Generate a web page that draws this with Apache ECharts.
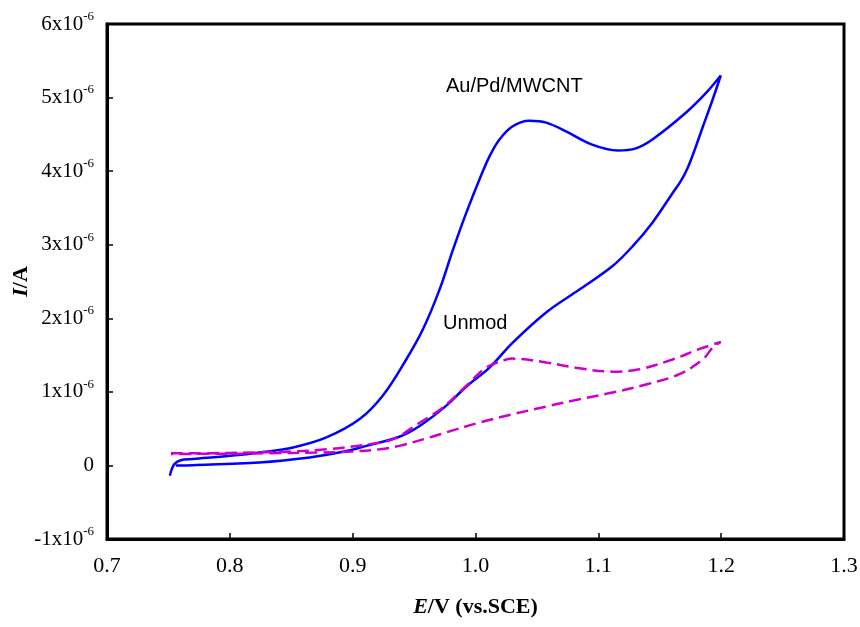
<!DOCTYPE html>
<html>
<head>
<meta charset="utf-8">
<script src="https://cdn.jsdelivr.net/npm/echarts@6/dist/echarts.min.js"></script>
<style>
html,body{margin:0;padding:0;background:#fff;}
#chart{width:860px;height:627px;}
</style>
</head>
<body>
<div id="chart"></div>
<script>
// Potential E (V vs. SCE) and current I (units of 1e-6 A)
var xTicks = [0.7, 0.8, 0.9, 1.0, 1.1, 1.2, 1.3];
var yTickLabels = {"-1": "-1x10", "0": "0", "1": "1x10", "2": "2x10", "3": "3x10", "4": "4x10", "5": "5x10", "6": "6x10"};

// Au/Pd/MWCNT (solid blue): start at 0.75 V, forward branch to 1.2 V, then reverse branch back
var blueE = [0.7512, 0.7525, 0.755, 0.76, 0.77, 0.80, 0.8244, 0.8515, 0.8786, 0.9057, 0.9246, 0.9436, 0.9572, 0.9707, 0.9816, 0.9924, 1.0033, 1.0114, 1.0195, 1.0303, 1.0439, 1.0575, 1.0737, 1.095, 1.1157, 1.1306, 1.144, 1.171, 1.1875, 1.1997,
             1.193, 1.1848, 1.178, 1.1726, 1.167, 1.1604, 1.144, 1.128, 1.1116, 1.0846, 1.0575, 1.0303, 1.0114, 0.9924, 0.976, 0.9545, 0.938, 0.911, 0.892, 0.865, 0.824, 0.77, 0.756];
var blueI = [-0.14, -0.06, 0.02, 0.07, 0.086, 0.13, 0.176, 0.244, 0.38, 0.63, 0.95, 1.44, 1.85, 2.39, 2.93, 3.43, 3.89, 4.20, 4.43, 4.61, 4.685, 4.66, 4.54, 4.36, 4.28, 4.31, 4.43, 4.79, 5.06, 5.30,
             4.97, 4.59, 4.27, 4.04, 3.86, 3.70, 3.30, 2.98, 2.71, 2.39, 2.08, 1.67, 1.33, 1.07, 0.81, 0.537, 0.39, 0.266, 0.185, 0.108, 0.04, 0.004, 0.0];

// Unmodified electrode (dashed magenta)
var magE = [0.752, 0.80, 0.85, 0.88, 0.91, 0.933, 0.9526, 0.9734, 0.9924, 1.0087, 1.025, 1.0303, 1.0575, 1.0846, 1.1116, 1.1333, 1.1604, 1.182, 1.1997,
            1.193, 1.185, 1.166, 1.1388, 1.1116, 1.0846, 1.0575, 1.0303, 1.0033, 0.976, 0.9626, 0.938, 0.922, 0.90, 0.87, 0.83, 0.80, 0.752];
var magI = [0.165, 0.17, 0.19, 0.22, 0.28, 0.357, 0.56, 0.787, 1.08, 1.33, 1.44, 1.452, 1.40, 1.32, 1.275, 1.306, 1.44, 1.58, 1.68,
            1.60, 1.44, 1.24, 1.10, 0.99, 0.90, 0.80, 0.696, 0.583, 0.448, 0.38, 0.266, 0.22, 0.19, 0.175, 0.165, 0.16, 0.155];

function pairs(xs, ys) { return xs.map(function (x, i) { return [x, ys[i]]; }); }

var chart = echarts.init(document.getElementById('chart'), null, {renderer: 'canvas'});
var serif = '"Liberation Serif", "Times New Roman", serif';
var sans = '"Liberation Sans", Arial, sans-serif';

chart.setOption({
  animation: false,
  backgroundColor: '#fff',
  grid: {left: 107, right: 16, top: 24, bottom: 88, containLabel: false, outerBoundsMode: 'none',
         show: true, borderColor: '#000', borderWidth: 3, backgroundColor: 'transparent'},
  xAxis: {
    type: 'value', min: xTicks[0], max: xTicks[xTicks.length - 1], interval: 0.1,
    name: '{i|E}{b|/V (vs.SCE)}', nameLocation: 'middle', nameGap: 57, nameMoveOverlap: false,
    nameTextStyle: {rich: {
      i: {fontFamily: serif, fontSize: 22, fontWeight: 'bold', fontStyle: 'italic', color: '#000'},
      b: {fontFamily: serif, fontSize: 22, fontWeight: 'bold', color: '#000'}
    }},
    axisLine: {show: true, onZero: false, lineStyle: {color: '#000', width: 3}},
    axisTick: {show: true, inside: true, length: 6, lineStyle: {color: '#000', width: 1.5}},
    axisLabel: {margin: 16, fontFamily: serif, fontSize: 22, color: '#000',
      formatter: function (v) { return v.toFixed(1); }},
    splitLine: {show: false}
  },
  yAxis: {
    type: 'value', min: -1, max: 6, interval: 1,
    name: '{i|I}{b|/A}', nameLocation: 'middle', nameGap: 75, nameRotate: 90, nameMoveOverlap: false,
    nameTextStyle: {rich: {
      i: {fontFamily: serif, fontSize: 22, fontWeight: 'bold', fontStyle: 'italic', color: '#000'},
      b: {fontFamily: serif, fontSize: 22, fontWeight: 'bold', color: '#000'}
    }},
    axisLine: {show: true, onZero: false, lineStyle: {color: '#000', width: 3}},
    axisTick: {show: true, inside: true, length: 6, lineStyle: {color: '#000', width: 1.5}},
    axisLabel: {margin: 13, color: '#000',
      formatter: function (v) {
        var k = String(Math.round(v));
        if (k === '0') return '{m|0}';
        return '{m|' + yTickLabels[k] + '}{s|-6}';
      },
      rich: {
        m: {fontFamily: serif, fontSize: 21, color: '#000', lineHeight: 28},
        s: {fontFamily: serif, fontSize: 13, color: '#000', verticalAlign: 'top', lineHeight: 13}
      }
    },
    splitLine: {show: false}
  },
  series: [
    {
      name: 'Au/Pd/MWCNT', type: 'line', data: pairs(blueE, blueI),
      showSymbol: false, smooth: 0.35, clip: false,
      lineStyle: {color: '#0000FF', width: 2.5}
    },
    {
      name: 'Unmod', type: 'line', data: pairs(magE, magI),
      showSymbol: false, smooth: 0.35, clip: false,
      lineStyle: {color: '#CC00CC', width: 2.5, type: [12, 6]}
    }
  ],
  graphic: [
    {type: 'text', left: 446, top: 76, style: {text: 'Au/Pd/MWCNT', font: '20px ' + sans, fill: '#000'}},
    {type: 'text', left: 443, top: 313, style: {text: 'Unmod', font: '20px ' + sans, fill: '#000'}}
  ]
});
</script>
</body>
</html>
